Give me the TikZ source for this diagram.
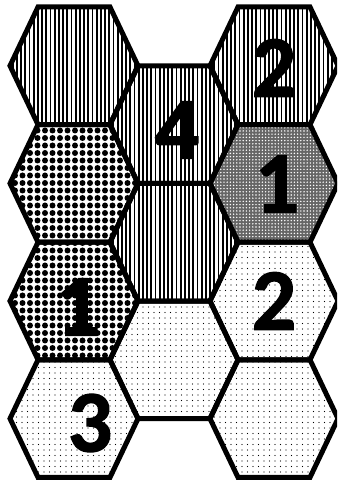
\documentclass[tikz,border=0pt]{standalone}
\usepackage{fontspec}
\setmainfont{Carlito}
\newfontfamily\digitfont[FakeBold=1.5]{Carlito Bold}
\usetikzlibrary{patterns.meta}

\tikzset{
  vlines/.style={pattern={Lines[angle=90, distance=4.2bp, line width=1.8bp]}},
  bigdots/.style={pattern={Dots[radius=3bp, distance=7.5bp]}},
  finedots/.style={pattern={Dots[radius=0.7bp, distance=5.5bp]}},
  darkdots/.style={preaction={fill=black!60}, pattern={Dots[radius=0.8bp, distance=3.2bp]}, pattern color=white},
  cellline/.style={draw=black, line width=5bp},
  digit/.style={font=\digitfont\fontsize{88}{88}\selectfont, inner sep=0pt},
}

\begin{document}
\begin{tikzpicture}[x=1bp, y=-1bp, line join=miter]
  \def\hexw{64}
  \def\hexe{36}
  \def\hexh{58.8}

  \newcommand{\hexcell}[3]{% #1=x, #2=y, #3=style
    \path[#3] ({#1-\hexw},#2) -- ({#1-\hexe},{#2-\hexh}) -- ({#1+\hexe},{#2-\hexh})
      -- ({#1+\hexw},#2) -- ({#1+\hexe},{#2+\hexh}) -- ({#1-\hexe},{#2+\hexh}) -- cycle;
  }

  \useasboundingbox (0,0) rectangle (337,483);
  \clip (0,0) rectangle (337,483);

  % left column
  \hexcell{74}{65.8}{vlines}
  \hexcell{74}{183.4}{bigdots}
  \hexcell{74}{301}{bigdots}
  \hexcell{74}{418.6}{finedots}

  % middle column
  \hexcell{174}{124.6}{vlines}
  \hexcell{174}{242.2}{vlines}
  \hexcell{174}{359.8}{finedots}

  % right column
  \hexcell{274}{65.8}{vlines}
  \hexcell{274}{183.4}{darkdots}
  \hexcell{274}{301}{finedots}
  \hexcell{274}{418.6}{finedots}

  \foreach \cx/\cy in {74/65.8, 74/183.4, 74/301, 74/418.6,
                       174/124.6, 174/242.2, 174/359.8,
                       274/65.8, 274/183.4, 274/301, 274/418.6} {
    \hexcell{\cx}{\cy}{cellline}
  }

  \node[digit] (r1) at (274,68) {2};
  \node[digit] (c1) at (177,130) {4};
  \node[digit] (r2) at (277,184) {1};
  \node[digit] (l3) at (78,307) {1};
  \node[digit] (r3) at (274,301) {2};
  \node[digit] (l4) at (90,423) {3};
\end{tikzpicture}
\end{document}
